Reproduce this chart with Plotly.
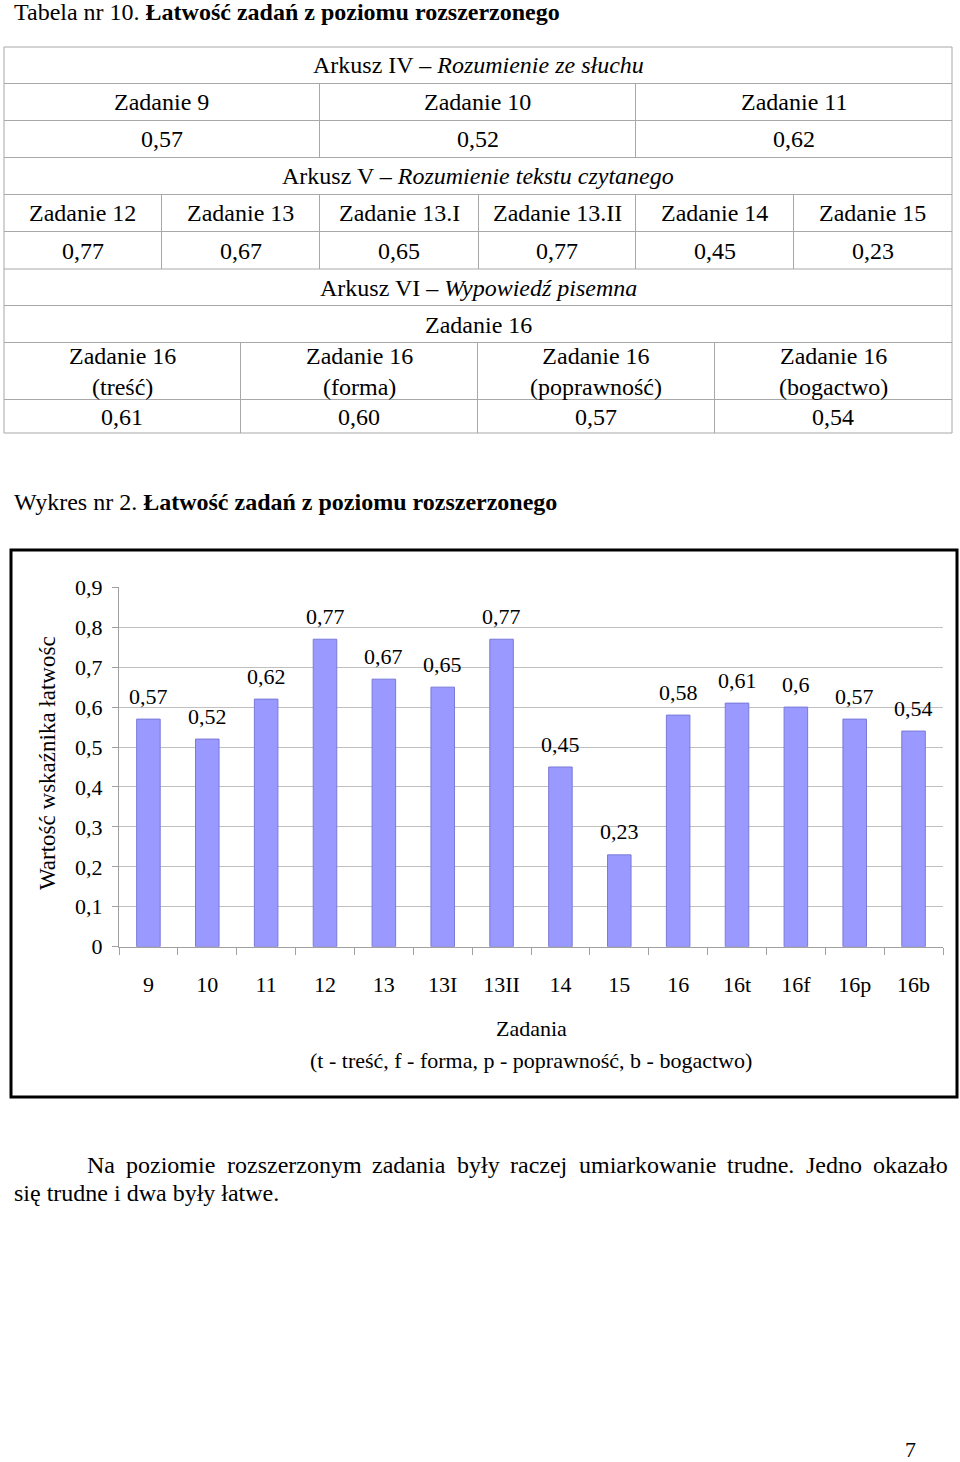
import plotly.graph_objects as go

# ---------------- data ----------------
categories = ["9", "10", "11", "12", "13", "13I", "13II", "14", "15", "16", "16t", "16f", "16p", "16b"]
values = [0.57, 0.52, 0.62, 0.77, 0.67, 0.65, 0.77, 0.45, 0.23, 0.58, 0.61, 0.6, 0.57, 0.54]
y_tick_vals = [0, 0.1, 0.2, 0.3, 0.4, 0.5, 0.6, 0.7, 0.8, 0.9]
y_tick_text = ["0", "0,1", "0,2", "0,3", "0,4", "0,5", "0,6", "0,7", "0,8", "0,9"]

sheet4_tasks = ["Zadanie 9", "Zadanie 10", "Zadanie 11"]
sheet4_values = ["0,57", "0,52", "0,62"]
sheet5_tasks = ["Zadanie 12", "Zadanie 13", "Zadanie 13.I", "Zadanie 13.II", "Zadanie 14", "Zadanie 15"]
sheet5_values = ["0,77", "0,67", "0,65", "0,77", "0,45", "0,23"]
sheet6_tasks = ["Zadanie 16<br>(treść)", "Zadanie 16<br>(forma)", "Zadanie 16<br>(poprawność)", "Zadanie 16<br>(bogactwo)"]
sheet6_values = ["0,61", "0,60", "0,57", "0,54"]

para_words = ["Na", "poziomie", "rozszerzonym", "zadania", "były", "raczej",
              "umiarkowanie", "trudne.", "Jedno", "okazało"]
para_word_x = [85, 124, 224.5, 370, 454.5, 508, 577, 725, 803.5, 870.5]

# ---------------- helpers ----------------
W, H = 960, 1462
FONT = "Liberation Serif"


def X(p):
    return p / W


def Y(p):
    return 1 - p / H


fig = go.Figure()

fig.add_trace(go.Bar(
    x=categories, y=values,
    marker=dict(color="#9999FF", line=dict(color="#7a7ad8", width=1)),
    hoverinfo="x+y",
))

annotations = []
shapes = []

# data labels (category axis: position by index)
for i, v in enumerate(values):
    annotations.append(dict(
        x=i, y=v, xref="x", yref="y", text=str(v).replace(".", ","),
        showarrow=False, yshift=23, xanchor="center", yanchor="middle",
        font=dict(family=FONT, size=22, color="black")))

# chart frame
shapes.append(dict(type="rect", xref="paper", yref="paper",
                   x0=X(11), x1=X(957), y0=Y(1097), y1=Y(550),
                   line=dict(color="black", width=3), fillcolor="rgba(0,0,0,0)", layer="below"))

# y title
annotations.append(dict(x=X(47), y=Y(763), xref="paper", yref="paper",
                        text="Wartość wskaźnika łatwośc", textangle=-90, showarrow=False,
                        xanchor="center", yanchor="middle",
                        font=dict(family=FONT, size=23, color="black")))
# x titles
annotations.append(dict(x=X(531), y=Y(1028), xref="paper", yref="paper", text="Zadania",
                        showarrow=False, xanchor="center", yanchor="middle",
                        font=dict(family=FONT, size=22, color="black")))
annotations.append(dict(x=X(531), y=Y(1060), xref="paper", yref="paper",
                        text="(t - treść, f - forma, p - poprawność, b - bogactwo)",
                        showarrow=False, xanchor="center", yanchor="middle",
                        font=dict(family=FONT, size=22, color="black")))

# ---------------- table ----------------
LC = "#a8a8a8"
TL, TR = 4, 952
row_lines = [47, 83.5, 120.5, 157.5, 194.5, 231.5, 269, 305.5, 342.5, 399.5, 433]
for yy in row_lines:
    shapes.append(dict(type="line", xref="paper", yref="paper", x0=X(TL), x1=X(TR),
                       y0=Y(yy), y1=Y(yy), line=dict(color=LC, width=1)))
for xx in [TL, TR]:
    shapes.append(dict(type="line", xref="paper", yref="paper", x0=X(xx), x1=X(xx),
                       y0=Y(47), y1=Y(433), line=dict(color=LC, width=1)))

col3 = [TL, 319.5, 635.5, TR]
col6 = [TL, 161.5, 319.5, 478.5, 635.5, 793.5, TR]
col4 = [TL, 240.5, 477.5, 714.5, TR]
for xx in col3[1:-1]:
    shapes.append(dict(type="line", xref="paper", yref="paper", x0=X(xx), x1=X(xx),
                       y0=Y(83.5), y1=Y(157.5), line=dict(color=LC, width=1)))
for xx in col6[1:-1]:
    shapes.append(dict(type="line", xref="paper", yref="paper", x0=X(xx), x1=X(xx),
                       y0=Y(194.5), y1=Y(269), line=dict(color=LC, width=1)))
for xx in col4[1:-1]:
    shapes.append(dict(type="line", xref="paper", yref="paper", x0=X(xx), x1=X(xx),
                       y0=Y(342.5), y1=Y(433), line=dict(color=LC, width=1)))

TF = dict(family=FONT, size=24, color="black")


def cell(text, cx, cy, **kw):
    annotations.append(dict(x=X(cx), y=Y(cy), xref="paper", yref="paper", text=text,
                            showarrow=False, font=kw.get("font", TF),
                            xanchor=kw.get("xanchor", "center"), yanchor="middle"))


def centers(cols):
    return [(a + b) / 2 for a, b in zip(cols[:-1], cols[1:])]


cell("Tabela nr 10. <b>Łatwość zadań z poziomu rozszerzonego</b>", 12, 12, xanchor="left")
cell("Arkusz IV – <i>Rozumienie ze słuchu</i>", 478, 65.5)
for t, v, cx in zip(sheet4_tasks, sheet4_values, centers(col3)):
    cell(t, cx, 102.5)
    cell(v, cx, 139.5)
cell("Arkusz V – <i>Rozumienie tekstu czytanego</i>", 478, 176.5)
for t, v, cx in zip(sheet5_tasks, sheet5_values, centers(col6)):
    cell(t, cx, 213.5)
    cell(v, cx, 251)
cell("Arkusz VI – <i>Wypowiedź pisemna</i>", 478, 288)
cell("Zadanie 16", 478, 325)
for t, v, cx in zip(sheet6_tasks, sheet6_values, centers(col4)):
    cell(t, cx, 371.5)
    cell(v, cx, 417)

cell("Wykres nr 2. <b>Łatwość zadań z poziomu rozszerzonego</b>", 12, 502, xanchor="left")

for w, xx in zip(para_words, para_word_x):
    cell(w, xx, 1165, xanchor="left")
cell("się trudne i dwa były łatwe.", 12, 1193, xanchor="left")
cell("7", 910, 1449, font=dict(family=FONT, size=22, color="black"))

fig.update_layout(
    width=W, height=H, autosize=False,
    margin=dict(l=0, r=0, t=0, b=0, pad=0, autoexpand=False),
    paper_bgcolor="white", plot_bgcolor="white",
    showlegend=False, bargap=0.6,
    font=dict(family=FONT, size=22, color="black"),
    annotations=annotations, shapes=shapes,
    xaxis=dict(domain=[X(119), X(943)], type="category", showgrid=False,
               automargin=False,
               showline=True, linecolor="#a0a0a0", linewidth=1,
               ticks="outside", tickson="boundaries", ticklen=7, tickcolor="#a0a0a0",
               ticklabelstandoff=18, tickfont=dict(family=FONT, size=22, color="black"),
               fixedrange=True),
    yaxis=dict(domain=[Y(946.7), Y(587.3)], range=[0, 0.9], showgrid=True,
               automargin=False,
               gridcolor="#c0c0c0", gridwidth=1, zeroline=False,
               showline=True, linecolor="#a0a0a0", linewidth=1,
               ticks="outside", ticklen=6, tickcolor="#a0a0a0",
               tickvals=y_tick_vals, ticktext=y_tick_text, ticklabelstandoff=5,
               tickfont=dict(family=FONT, size=22, color="black"), fixedrange=True),
)

fig.write_html("out.html", config={"displayModeBar": False},
               post_script="document.body.style.margin='0px';document.body.style.padding='0px';")
